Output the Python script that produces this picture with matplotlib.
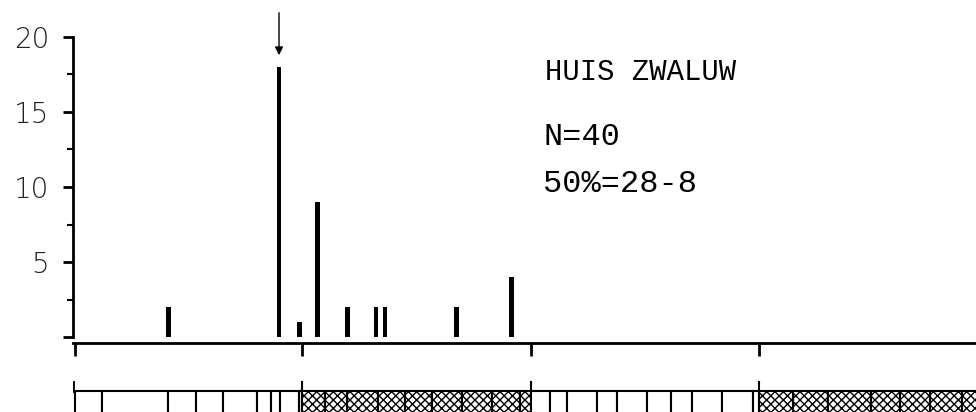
import numpy as np
import matplotlib
matplotlib.use("Agg")
from matplotlib import pyplot as plt
from matplotlib.patches import Rectangle

# days counted from 1 April (0 = start of April)
bar_days = [12.5, 27.2, 29.9, 32.3, 36.3, 40.1, 41.3, 50.8, 58.1]
bar_counts = [2, 18, 1, 9, 2, 2, 2, 2, 4]
median_day = 27.2

month_starts = [0, 30.3, 60.7, 91]
hatched_months = [(30.3, 60.7), (91, 121)]

# cell boundaries of the calendar strip under the axis
strip_edges = [0, 3.6, 12.4, 16.2, 19.7, 24.3, 26.2, 27.3, 29.9,
               30.3, 33.3, 36.3, 40.3, 43.9, 47.6, 51.6, 55.5, 59.2,
               60.7, 63.2, 65.5, 69.5, 72.2, 76.2, 79.4, 82.1, 86.1, 90.2,
               91, 95.5, 100.2, 106.0, 109.8, 113.8, 118.1, 121]

title = "HUIS ZWALUW"
n_text = "N=40"
pct_text = "50%=28-8"

W, H = 976, 412
fig = plt.figure(figsize=(W / 100, H / 100), dpi=100)

x0, x1 = -0.2, 119.9
ax = fig.add_axes([73 / W, 1 - 343 / H, 1 - 73 / W, (343 - 37) / H])
ax.set_xlim(x0, x1)
ax.set_ylim(-0.4, 20)

ax.bar(bar_days, bar_counts, width=0.6, color="black", linewidth=0)

for s in ["top", "right"]:
    ax.spines[s].set_visible(False)
ax.spines["left"].set_bounds(0, 20)
ax.spines["left"].set_linewidth(2)
ax.spines["bottom"].set_linewidth(2)

ax.set_yticks([0, 5, 10, 15, 20])
ax.set_yticklabels(["", "5", "10", "15", "20"], fontsize=20,
                   fontweight="light", color="#222222")
ax.set_yticks([2.5, 7.5, 12.5, 17.5], minor=True)
ax.tick_params(axis="y", which="major", direction="out", length=7, width=2, pad=10)
ax.tick_params(axis="y", which="minor", direction="out", length=4, width=1.5)
ax.set_xticks(month_starts)
ax.set_xticklabels([])
ax.tick_params(axis="x", direction="out", length=9, width=2)

# arrow marking the median
ax.annotate("", xy=(median_day, 18.6), xytext=(median_day, 21.8),
            arrowprops=dict(arrowstyle="-|>", color="black", lw=1, mutation_scale=12),
            annotation_clip=False)

fig.text(545 / W, 1 - 80 / H, title, fontsize=20.8, family="Liberation Mono", va="baseline")
fig.text(543 / W, 1 - 145 / H, n_text, fontsize=23, family="Liberation Mono", va="baseline")
fig.text(543 / W, 1 - 192 / H, pct_text, fontsize=23, family="Liberation Mono", va="baseline")

# calendar strip
ax2 = fig.add_axes([73 / W, 0, 1 - 73 / W, 31 / H])
ax2.set_xlim(x0, x1)
ax2.set_ylim(0, 31)
ax2.axis("off")
top = 21
for a, b in zip(strip_edges[:-1], strip_edges[1:]):
    hatched = any(lo <= a < hi for lo, hi in hatched_months)
    ax2.add_patch(Rectangle((a, -5), b - a, top + 5, facecolor="white",
                            edgecolor="black", linewidth=1.5,
                            hatch="xxxx" if hatched else None))
ax2.plot([x0, x0], [top, 30], color="black", lw=2)
for m in month_starts[1:]:
    ax2.plot([m, m], [top, 30], color="black", lw=1.5)

fig.savefig("out.png", dpi=100)
